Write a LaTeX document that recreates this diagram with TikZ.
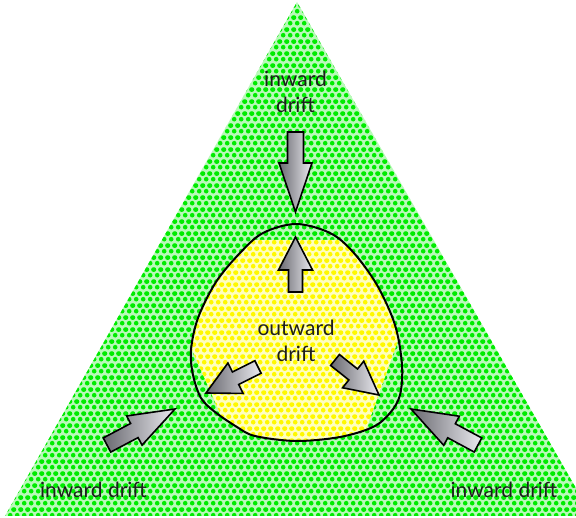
\documentclass[tikz,border=0pt]{standalone}
\usepackage{fontspec}
\setmainfont{Lato}
\usetikzlibrary{calc,patterns}
\pgfdeclarepatternformonly{hexdots}{\pgfqpoint{0pt}{0pt}}{\pgfqpoint{6.7pt}{11.6pt}}{\pgfqpoint{6.7pt}{11.6pt}}{%
  \pgfpathcircle{\pgfqpoint{3.35pt}{2.9pt}}{2.4pt}%
  \pgfpathcircle{\pgfqpoint{0pt}{8.7pt}}{2.4pt}%
  \pgfpathcircle{\pgfqpoint{6.7pt}{8.7pt}}{2.4pt}%
  \pgfusepath{fill}}
\definecolor{gdot}{RGB}{0,235,0}
\definecolor{gbg}{RGB}{185,250,185}
\definecolor{ydot}{RGB}{255,248,0}
\definecolor{ybg}{RGB}{255,255,190}
\definecolor{adark}{RGB}{105,105,112}
\definecolor{alight}{RGB}{235,235,240}
\definecolor{txt}{RGB}{30,30,30}
\tikzset{
  lbl/.style={font=\fontsize{21}{26}\selectfont, align=center, text=txt, inner sep=0pt},
  arrowstyle/.style={draw=black, line width=1.6pt, line join=miter, left color=adark, right color=alight},
  loop/.style={draw=black, line width=2pt}
}
\newcommand\blockarrow[6]{% name, tail, tip, half shaft, half head width, head length
  \coordinate (#1-t) at #2;
  \coordinate (#1-h) at #3;
  \coordinate (#1-b) at ($(#1-h)!#6!(#1-t)$);
  \shade[arrowstyle] ($(#1-t)!#4!90:(#1-h)$) -- ($(#1-b)!#4!90:(#1-h)$) -- ($(#1-b)!#5!90:(#1-h)$)
    -- (#1-h) -- ($(#1-b)!#5!-90:(#1-h)$) -- ($(#1-b)!#4!-90:(#1-h)$) -- ($(#1-t)!#4!-90:(#1-h)$) -- cycle;
}
\begin{document}
\begin{tikzpicture}[x=1pt,y=-1pt]
\useasboundingbox (0,0) rectangle (576,518);
\clip (0,0) rectangle (576,518);
% triangle
\coordinate (apex) at (297,2);
\coordinate (br) at (592,516);
\coordinate (bl) at (5,516);
\fill[gbg] (apex) -- (br) -- (bl) -- cycle;
\fill[pattern=hexdots, pattern color=gdot] (apex) -- (br) -- (bl) -- cycle;
% yellow region
\def\loopcurve{plot[smooth cycle, tension=0.55] coordinates {(296,224) (330,233) (353,252) (377,285) (395,325) (402,365) (400,395) (390,413) (373,427) (340,437) (296,441) (255,436) (237,427) (215,412) (201,398) (193,375) (191,350) (198,318) (216,282) (240,253) (263,233)}}
\begin{scope}
  \clip \loopcurve;
  \fill[ybg] (150,240) -- (450,240) -- (412.7,300) -- (360.5,445) -- (234,445) -- (170,300) -- cycle;
  \fill[pattern=hexdots, pattern color=ydot] (150,240) -- (450,240) -- (412.7,300) -- (360.5,445) -- (234,445) -- (170,300) -- cycle;
\end{scope}
\draw[loop] \loopcurve;
% inward arrows
\blockarrow{a1}{(295.5,132)}{(295.5,212)}{8pt}{16.5pt}{49pt}
\blockarrow{a2}{(107,445)}{(175,409)}{8pt}{16.5pt}{46pt}
\blockarrow{a3}{(478,445)}{(411,409)}{8pt}{16.5pt}{46pt}
% outward arrows
\blockarrow{b1}{(295.5,292)}{(295.5,237)}{7pt}{17pt}{33pt}
\blockarrow{b2}{(258,367)}{(206,393)}{7pt}{17pt}{33pt}
\blockarrow{b3}{(335,360)}{(379,395)}{7pt}{17pt}{33pt}
% labels
\node[lbl, anchor=base] (top) at (295.5,112.7) {inward\\drift};
\node[lbl, anchor=base] (mid) at (296,361.7) {outward\\drift};
\node[lbl, anchor=base] (left) at (93.5,497) {inward drift};
\node[lbl, anchor=base] (right) at (504,497) {inward drift};
\end{tikzpicture}
\end{document}
